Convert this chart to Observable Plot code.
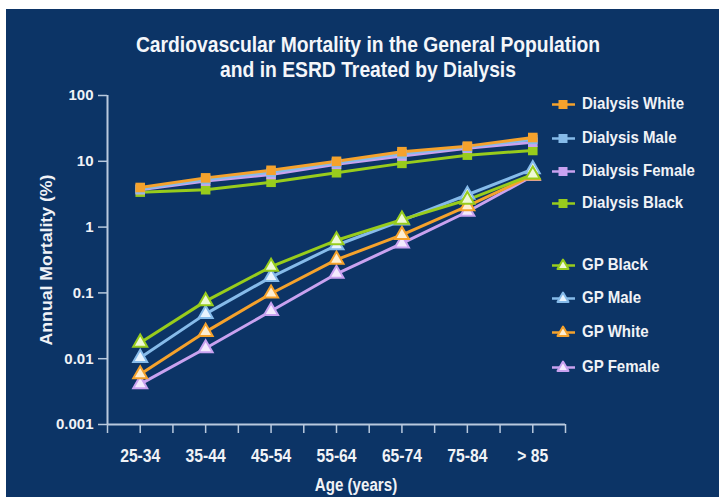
<!DOCTYPE html>
<html>
<head>
<meta charset="utf-8">
<script src="https://cdn.jsdelivr.net/npm/d3@7"></script>
<script src="https://cdn.jsdelivr.net/npm/@observablehq/plot@0.6"></script>
<style>
  html, body { margin: 0; padding: 0; background: #ffffff; }
  body { width: 719px; height: 497px; position: relative; overflow: hidden;
         font-family: "Liberation Sans", Arial, sans-serif; }
  #panel { position: absolute; left: 6px; top: 9px; width: 713px; height: 488px; background: #0c3466; }
  .title { position: absolute; left: 0; width: 736px; text-align: center; color: #f4f6fa;
           font-weight: bold; font-size: 22px; line-height: 26px; transform: scaleX(0.877); transform-origin: 368px 0; }
  .ylabel { position: absolute; color: #f0f2f6; font-weight: bold; font-size: 17px;
            transform: translate(-50%, -50%) rotate(-90deg) scaleX(1.04); left: 47px; top: 260px; white-space: nowrap; }
  .xlabel { position: absolute; color: #f0f2f6; font-weight: bold; font-size: 18px;
            transform: translate(-50%, -50%) scaleX(0.84); left: 356px; top: 485px; white-space: nowrap; }
  #chart { position: absolute; left: 6px; top: 9px; }
  .leg { position: absolute; left: 551px; height: 20px; display: flex; align-items: center;
         color: #f0f2f6; font-weight: bold; font-size: 17px; white-space: nowrap; transform: translateY(-50%); }
  .leg svg { margin-right: 6px; }
  .leg span { display: inline-block; transform: scaleX(0.885); transform-origin: 0 50%; }
</style>
</head>
<body>
<div id="panel"></div>
<div id="chart"></div>
<div class="title" style="top:32px">Cardiovascular Mortality in the General Population</div>
<div class="title" style="top:57px">and in ESRD Treated by Dialysis</div>
<div class="ylabel">Annual Mortality (%)</div>
<div class="xlabel">Age (years)</div>
<div id="legend"></div>
<script>
// ---- data ----
const categories = ["25-34", "35-44", "45-54", "55-64", "65-74", "75-84", "> 85"];
const yTicks = [0.001, 0.01, 0.1, 1, 10, 100];

const dialysisWhite  = [4.0, 5.6, 7.3, 10.0, 14.0, 17.0, 23.0];
const dialysisMale   = [3.8, 5.3, 6.8, 9.5, 13.0, 16.5, 21.5];
const dialysisFemale = [3.7, 5.0, 6.3, 9.0, 12.0, 15.8, 19.5];
const dialysisBlack  = [3.4, 3.7, 4.8, 6.7, 9.3, 12.4, 14.6];

const gpBlack  = [0.0175, 0.075, 0.25, 0.63, 1.3, 2.6, 6.3];
const gpMale   = [0.0103, 0.048, 0.174, 0.53, 1.26, 3.1, 7.6];
const gpWhite  = [0.0058, 0.0256, 0.098, 0.32, 0.76, 2.08, 6.1];
const gpFemale = [0.0041, 0.0144, 0.053, 0.195, 0.565, 1.71, 6.0];

const seriesNames = ["Dialysis White", "Dialysis Male", "Dialysis Female", "Dialysis Black",
                     "GP Black", "GP Male", "GP White", "GP Female"];
const seriesValues = [dialysisWhite, dialysisMale, dialysisFemale, dialysisBlack,
                      gpBlack, gpMale, gpWhite, gpFemale];

// ---- styles ----
const colors = {
  "Dialysis White": "#f5a22c", "Dialysis Male": "#86bbea", "Dialysis Female": "#c9a2f0", "Dialysis Black": "#98cc1c",
  "GP Black": "#98cc1c", "GP Male": "#86bbea", "GP White": "#f5a22c", "GP Female": "#c9a2f0"
};
const pale = {
  "GP Black": "#eef8d6", "GP Male": "#e8f3fd", "GP White": "#fdeed2", "GP Female": "#f3eafd"
};
const axisColor = "#b9c9de";

const rows = [];
seriesNames.forEach((name, s) => {
  seriesValues[s].forEach((v, i) => rows.push({series: name, x: i, value: v}));
});

const drawOrder = ["Dialysis Black", "Dialysis Female", "Dialysis Male", "Dialysis White",
                   "GP Female", "GP White", "GP Male", "GP Black"];

const marks = [];
for (const name of drawOrder) {
  const d = rows.filter(r => r.series === name);
  marks.push(Plot.line(d, {x: "x", y: "value", stroke: colors[name], strokeWidth: 3}));
}
for (const name of drawOrder) {
  const d = rows.filter(r => r.series === name);
  if (name.startsWith("GP")) {
    marks.push(Plot.dot(d, {x: "x", y: "value", symbol: "triangle", r: 5.2, fill: pale[name], stroke: colors[name], strokeWidth: 2}));
  } else {
    marks.push(Plot.dot(d, {x: "x", y: "value", symbol: "square", r: 5.4, fill: colors[name], stroke: "none"}));
  }
}

const plot = Plot.plot({
  width: 713,
  height: 488,
  marginLeft: 101,
  marginRight: 154,
  marginTop: 86,
  marginBottom: 73,
  style: {background: "transparent", color: "#f0f2f6", fontFamily: "'Liberation Sans', Arial, sans-serif"},
  x: {type: "linear", domain: [-0.5, 6.5]},
  y: {type: "log", domain: [0.001, 100]},
  marks: [
    Plot.axisY({ticks: yTicks, tickFormat: d => String(d), tickSize: 9, tickPadding: 5, stroke: axisColor, strokeWidth: 1.5,
                fontSize: 15, fontWeight: "bold", fill: "#f0f2f6", label: null}),
    Plot.axisX({ticks: d3.range(-0.5, 6.51, 0.5), tickSize: 9, tickFormat: () => "", stroke: axisColor, strokeWidth: 1.5, label: null}),
    Plot.axisX({ticks: d3.range(0, 7), tickSize: 0, tickPadding: 25, tickFormat: i => categories[i],
                fontSize: 18, fontWeight: "bold", fill: "#f0f2f6", label: null}),
    Plot.ruleX([-0.5], {stroke: axisColor, strokeWidth: 2}),
    Plot.ruleY([0.001], {stroke: axisColor, strokeWidth: 2}),
    ...marks
  ]
});
document.getElementById("chart").appendChild(plot);

// condense the x tick labels like the narrow face of the original
plot.querySelectorAll('g[aria-label="x-axis tick label"] text').forEach(t => {
  if (!t.textContent) return;
  const len = t.getComputedTextLength();
  t.setAttribute("textLength", (len * 0.87).toFixed(1));
  t.setAttribute("lengthAdjust", "spacingAndGlyphs");
});

// ---- legend ----
const legendY = [104, 138, 171, 203, 265, 298, 332, 367];
const legend = document.getElementById("legend");
seriesNames.forEach((name, i) => {
  const div = document.createElement("div");
  div.className = "leg";
  div.style.top = legendY[i] + "px";
  const c = colors[name];
  const marker = name.startsWith("GP")
    ? `<path d="M12,1.5 L17.5,11 L6.5,11 Z" fill="${pale[name]}" stroke="${c}" stroke-width="2" stroke-linejoin="round"/>`
    : `<rect x="7.5" y="3" width="9" height="9" fill="${c}"/>`;
  div.innerHTML = `<svg width="25" height="14" viewBox="0 0 25 14"><line x1="1" x2="24" y1="7.5" y2="7.5" stroke="${c}" stroke-width="2.5"/>${marker}</svg><span>${name}</span>`;
  legend.appendChild(div);
});
</script>
</body>
</html>
